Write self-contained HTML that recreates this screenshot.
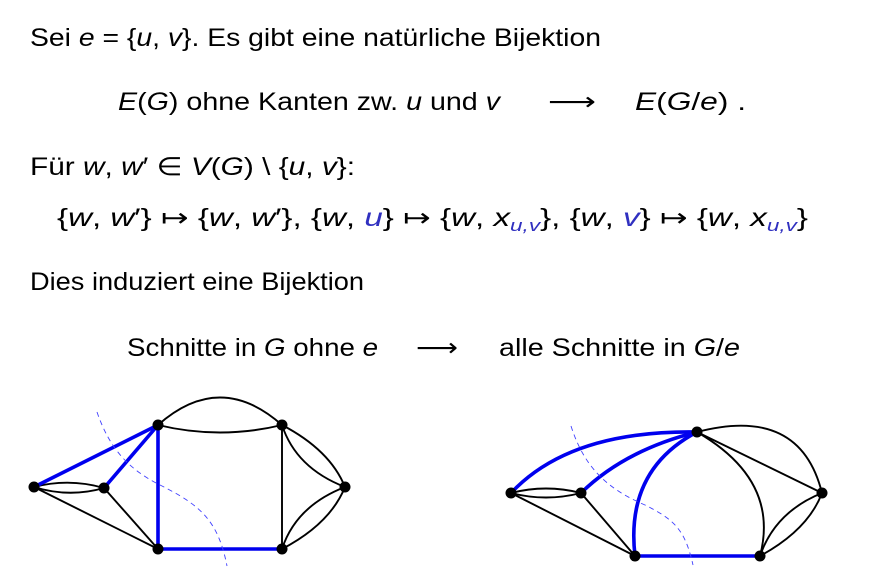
<!DOCTYPE html>
<html><head><meta charset="utf-8"><style>
html,body{margin:0;padding:0;background:#fff;}
svg{display:block;}
text{font-family:"Liberation Sans","DejaVu Sans",sans-serif;font-size:25px;fill:#000;}
.i{font-style:italic;}
.b{fill:#3030c0;}
</style></head><body>
<svg width="886" height="578" viewBox="0 0 886 578" xmlns="http://www.w3.org/2000/svg">
<text x="30" y="46" textLength="571" lengthAdjust="spacingAndGlyphs">Sei <tspan class="i">e</tspan> = {<tspan class="i">u</tspan>, <tspan class="i">v</tspan>}. Es gibt eine natürliche Bijektion</text>
<text x="118" y="110" textLength="382" lengthAdjust="spacingAndGlyphs"><tspan class="i">E</tspan>(<tspan class="i">G</tspan>) ohne Kanten zw. <tspan class="i">u</tspan> und <tspan class="i">v</tspan></text>
<text x="548" y="110" textLength="48" lengthAdjust="spacingAndGlyphs">⟶</text>
<text x="635" y="110" textLength="111" lengthAdjust="spacingAndGlyphs"><tspan class="i">E</tspan>(<tspan class="i">G</tspan>/<tspan class="i">e</tspan>) .</text>
<text x="30" y="175" textLength="325" lengthAdjust="spacingAndGlyphs">Für <tspan class="i">w</tspan>, <tspan class="i">w</tspan>′ ∈ <tspan class="i">V</tspan>(<tspan class="i">G</tspan>) \ {<tspan class="i">u</tspan>, <tspan class="i">v</tspan>}:</text>
<text x="57" y="226" textLength="751" lengthAdjust="spacingAndGlyphs">{<tspan class="i">w</tspan>, <tspan class="i">w</tspan>′} ↦ {<tspan class="i">w</tspan>, <tspan class="i">w</tspan>′},  {<tspan class="i">w</tspan>, <tspan class="i b">u</tspan>} ↦ {<tspan class="i">w</tspan>, <tspan class="i">x</tspan><tspan class="i b" font-size="17" dy="5">u,v</tspan><tspan dy="-5">},  {</tspan><tspan class="i">w</tspan>, <tspan class="i b">v</tspan>} ↦ {<tspan class="i">w</tspan>, <tspan class="i">x</tspan><tspan class="i b" font-size="17" dy="5">u,v</tspan><tspan dy="-5">}</tspan></text>
<text x="30" y="290" textLength="334" lengthAdjust="spacingAndGlyphs">Dies induziert eine Bijektion</text>
<text x="127" y="356" textLength="251" lengthAdjust="spacingAndGlyphs">Schnitte in <tspan class="i">G</tspan> ohne <tspan class="i">e</tspan></text>
<text x="416" y="356" textLength="42" lengthAdjust="spacingAndGlyphs">⟶</text>
<text x="499" y="356" textLength="241" lengthAdjust="spacingAndGlyphs">alle Schnitte in <tspan class="i">G</tspan>/<tspan class="i">e</tspan></text>

<!-- left graph -->
<g fill="none" stroke="#000" stroke-width="1.9">
<path d="M34,487 Q69,478 104,488"/>
<path d="M34,487 Q69,498 104,488"/>
<path d="M34,487 L158,549"/>
<path d="M104,488 L158,549"/>
<path d="M158,425 Q220,370 282,425"/>
<path d="M158,425 Q220,440 282,425"/>
<path d="M282,425 L282,549"/>
<path d="M282,425 Q330,450 345,487"/>
<path d="M282,425 Q296,468 345,487"/>
<path d="M282,549 Q330,524 345,487"/>
<path d="M282,549 Q296,506 345,487"/>
</g>
<g fill="none" stroke="#0000ee" stroke-width="3.6">
<path d="M34,487 L158,425"/>
<path d="M104,488 L158,425"/>
<path d="M158,425 L158,549 L282,549"/>
</g>
<path d="M97,412 C110,450 130,470 160,485 C200,505 218,520 227,566" fill="none" stroke="#4040ff" stroke-width="0.9" stroke-dasharray="5,4"/>
<g fill="#000">
<circle cx="34" cy="487" r="5.5"/><circle cx="104" cy="488" r="5.5"/><circle cx="158" cy="425" r="5.5"/>
<circle cx="158" cy="549" r="5.5"/><circle cx="282" cy="425" r="5.5"/><circle cx="282" cy="549" r="5.5"/><circle cx="345" cy="487" r="5.5"/>
</g>

<!-- right graph -->
<g fill="none" stroke="#000" stroke-width="1.9">
<path d="M511,493 Q546,484 581,493"/>
<path d="M511,493 Q546,502 581,493"/>
<path d="M511,493 L635,556"/>
<path d="M581,493 L635,556"/>
<path d="M697,432 Q800,405 822,493"/>
<path d="M697,432 L822,493"/>
<path d="M697,432 Q780,480 760,556"/>
<path d="M760,556 Q808,530 822,493"/>
<path d="M760,556 Q775,512 822,493"/>
</g>
<g fill="none" stroke="#0000ee" stroke-width="3.6">
<path d="M511,493 Q570,430 697,432"/>
<path d="M581,493 Q625,450 697,432"/>
<path d="M697,432 Q625,470 635,556"/>
<path d="M635,556 L760,556"/>
</g>
<path d="M571,426 C585,470 610,490 645,505 C675,520 685,530 693,565" fill="none" stroke="#4040ff" stroke-width="0.9" stroke-dasharray="5,4"/>
<g fill="#000">
<circle cx="511" cy="493" r="5.5"/><circle cx="581" cy="493" r="5.5"/><circle cx="697" cy="432" r="5.5"/>
<circle cx="635" cy="556" r="5.5"/><circle cx="760" cy="556" r="5.5"/><circle cx="822" cy="493" r="5.5"/>
</g>
</svg>
</body></html>
